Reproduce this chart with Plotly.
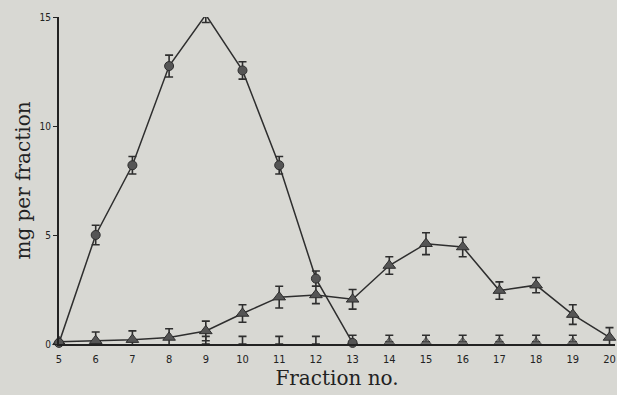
import plotly.graph_objects as go

# Circle series (fractions 5-13)
circ_x = [5, 6, 7, 8, 9, 10, 11, 12, 13]
circ_y = [0.05, 5.0, 8.2, 12.75, 15.1, 12.55, 8.2, 3.0, 0.05]
circ_err = [0, 0.45, 0.4, 0.5, 0.35, 0.4, 0.4, 0.35, 0]

# Triangle series (fractions 5-20)
tri_x = [5, 6, 7, 8, 9, 10, 11, 12, 13, 14, 15, 16, 17, 18, 19, 20]
tri_y = [0.1, 0.15, 0.2, 0.3, 0.6, 1.4, 2.15, 2.25, 2.05, 3.6, 4.6, 4.45, 2.45, 2.7, 1.35, 0.3]
tri_err = [0, 0.4, 0.4, 0.4, 0.45, 0.4, 0.5, 0.4, 0.45, 0.4, 0.5, 0.45, 0.4, 0.35, 0.45, 0.45]

# Baseline series (near zero)
base_x = [9, 10, 11, 12, 13, 14, 15, 16, 17, 18, 19]
base_y = [0.0, 0.0, 0.0, 0.0, 0.1, 0.1, 0.1, 0.1, 0.1, 0.1, 0.1]
base_err = [0.35, 0.35, 0.35, 0.35, 0.3, 0.3, 0.3, 0.3, 0.3, 0.3, 0.3]
base_show = [0, 0, 0, 0, 1, 1, 1, 1, 1, 1, 1]

x_ticks = list(range(5, 21))
y_ticks = [0, 5, 10, 15]

line_col = "#2e2e2e"
mark_col = "#555555"
bg = "#d8d8d3"

fig = go.Figure()

fig.add_trace(go.Scatter(
    x=base_x, y=base_y, mode="markers",
    marker=dict(symbol="triangle-up", size=[9 * s for s in base_show], color=mark_col,
                line=dict(color=line_col, width=1)),
    error_y=dict(type="data", array=base_err, arrayminus=[0] * len(base_err),
                 color=line_col, thickness=1.6, width=4),
    cliponaxis=False, showlegend=False))

fig.add_trace(go.Scatter(
    x=tri_x, y=tri_y, mode="lines+markers",
    line=dict(color=line_col, width=1.5),
    marker=dict(symbol="triangle-up", size=11, color=mark_col,
                line=dict(color=line_col, width=1)),
    error_y=dict(type="data", array=tri_err, color=line_col, thickness=1.6, width=4),
    cliponaxis=False, showlegend=False))

fig.add_trace(go.Scatter(
    x=circ_x, y=circ_y, mode="lines+markers",
    line=dict(color=line_col, width=1.5),
    marker=dict(symbol="circle", size=9, color=mark_col,
                line=dict(color=line_col, width=1)),
    error_y=dict(type="data", array=circ_err, color=line_col, thickness=1.6, width=4),
    cliponaxis=False, showlegend=False))

fig.update_layout(
    width=617, height=395,
    margin=dict(l=59, r=2, t=17, b=51, autoexpand=False),
    paper_bgcolor=bg, plot_bgcolor=bg,
    font=dict(family="DejaVu Sans Condensed, DejaVu Sans", color="#222"),
)
fig.update_xaxes(
    range=[5, 20.15], tickmode="array", tickvals=x_ticks,
    ticktext=[str(v) for v in x_ticks],
    showgrid=False, zeroline=False, showline=True, linecolor="#222", linewidth=2,
    ticks="", tickfont=dict(size=11), ticklabelstandoff=4,
    title=dict(text="Fraction no.", font=dict(family="DejaVu Serif", size=20, color="#222"),
               standoff=6),
)
fig.update_yaxes(
    range=[0, 15], tickmode="array", tickvals=y_ticks,
    ticktext=[str(v) for v in y_ticks],
    showgrid=False, zeroline=False, showline=True, linecolor="#222", linewidth=2,
    ticks="outside", ticklen=4, tickwidth=1, tickcolor="#222", tickfont=dict(size=10),
    title=dict(text="mg per fraction", font=dict(family="DejaVu Serif", size=20, color="#222"),
               standoff=4),
)

fig.write_html(
    "out.html",
    config={"displayModeBar": False},
    post_script="document.body.style.margin='0';document.body.style.background='" + bg + "';",
)
